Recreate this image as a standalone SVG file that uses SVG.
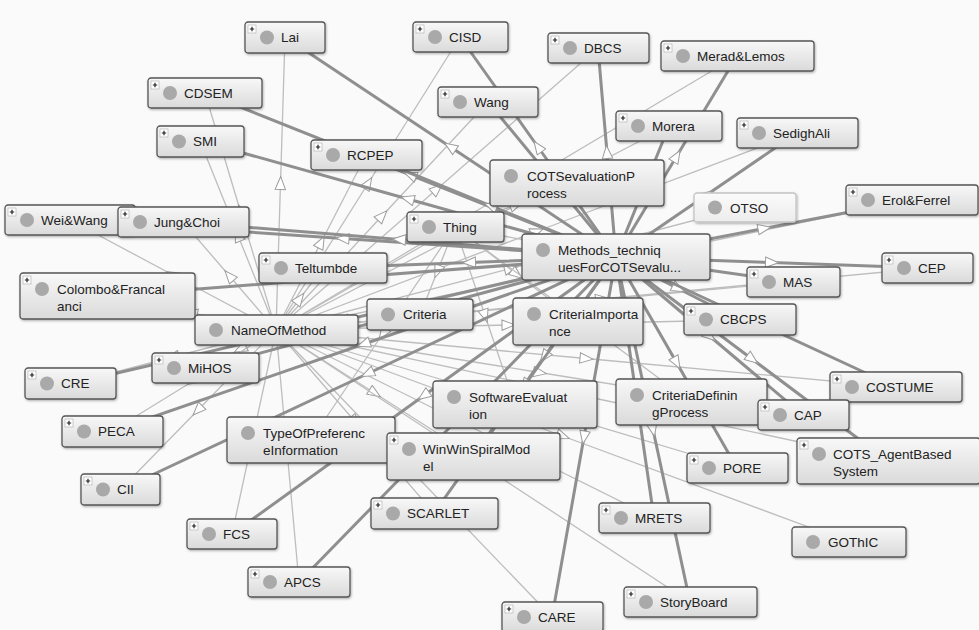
<svg xmlns="http://www.w3.org/2000/svg" xmlns:xlink="http://www.w3.org/1999/xlink" width="979" height="630" viewBox="0 0 979 630">
<style>
.box{fill:url(#gr);stroke:#565656;stroke-width:1.3;filter:url(#sh)}
.faded .box{stroke:#c4c4c4;fill:url(#grf)}
.dot{fill:#a9a9a9}
text{font-family:"Liberation Sans",Arial,sans-serif;font-size:13.5px;fill:#222}
.thin path{fill:none;stroke:#bdbdbd;stroke-width:1.3}
.thick path{fill:none;stroke:#8f8f8f;stroke-width:3}
</style>
<defs>
<linearGradient id="gr" x1="0" y1="0" x2="0" y2="1"><stop offset="0" stop-color="#f8f8f8"/><stop offset="1" stop-color="#dadada"/></linearGradient>
<linearGradient id="grf" x1="0" y1="0" x2="0" y2="1"><stop offset="0" stop-color="#fbfbfb"/><stop offset="1" stop-color="#ececec"/></linearGradient>
<filter id="sh" x="-5%" y="-10%" width="110%" height="130%"><feDropShadow dx="0.8" dy="1.2" stdDeviation="0.8" flood-color="#000" flood-opacity="0.3"/></filter>
<marker id="ah" viewBox="0 0 16 12" markerWidth="16" markerHeight="12" refX="7" refY="6" orient="auto" markerUnits="userSpaceOnUse"><path d="M14,6 L1,0.8 L1,11.2 Z" fill="#fff" stroke="#9c9c9c" stroke-width="1"/></marker>
<g id="plus"><rect x="3" y="3" width="8" height="8" fill="#fff" stroke="#aaa" stroke-width="0.6"/><path d="M4.8,7 H9.2 M7,4.8 V9.2" stroke="#222" stroke-width="1.2"/></g>
</defs>
<rect width="979" height="630" fill="#fafafa"/>
<g id="connectors">
<g class="thin" marker-mid="url(#ah)">
<path d="M276,330 L280.5,183.5 L285,37"/>
<path d="M276,330 L240.5,211.5 L205,93"/>
<path d="M276,330 L238,235.5 L200,141"/>
<path d="M276,330 L368,183.5 L460,37"/>
<path d="M276,330 L382,216 L488,102"/>
<path d="M276,330 L321,242.5 L366,155"/>
<path d="M276,330 L437,189 L598,48"/>
<path d="M276,330 L506.5,193 L737,56"/>
<path d="M276,330 L472.5,228 L669,126"/>
<path d="M276,330 L536.5,231.5 L797,133"/>
<path d="M276,330 L594,265 L912,200"/>
<path d="M276,330 L173,275 L70,220"/>
<path d="M276,330 L229.5,276 L183,222"/>
<path d="M276,330 L299.5,299 L323,268"/>
<path d="M276,330 L191.5,313 L107,296"/>
<path d="M276,330 L601.5,299 L927,268"/>
<path d="M276,330 L534.5,306 L793,282"/>
<path d="M276,330 L508,325 L740,320"/>
<path d="M276,330 L240.5,349 L205,368"/>
<path d="M276,330 L173,357 L70,384"/>
<path d="M276,330 L586,358.5 L896,387"/>
<path d="M276,330 L539.5,372.5 L803,415"/>
<path d="M276,330 L194,380.5 L112,431"/>
<path d="M276,330 L374.5,393 L473,456"/>
<path d="M276,330 L582,395.5 L888,461"/>
<path d="M276,330 L506.5,399 L737,468"/>
<path d="M276,330 L198,410 L120,490"/>
<path d="M276,330 L355,421.5 L434,513"/>
<path d="M276,330 L465,424 L654,518"/>
<path d="M276,330 L254,432 L232,534"/>
<path d="M276,330 L562.5,436 L849,542"/>
<path d="M276,330 L287.5,456 L299,582"/>
<path d="M276,330 L483,466 L690,602"/>
<path d="M276,330 L414,473.5 L552,617"/>
<path d="M276,330 L510.5,268.5 L745,207"/>
<path d="M455,227 L516,205 L577,183"/>
<path d="M455,227 L535.5,242 L616,257"/>
<path d="M455,227 L365.5,278.5 L276,330"/>
<path d="M455,227 L437.5,271 L420,315"/>
<path d="M455,227 L516.5,274 L578,321"/>
<path d="M455,227 L485,315.5 L515,404"/>
<path d="M455,227 L573,314.5 L691,402"/>
<path d="M455,227 L383,333.5 L311,440"/>
</g>
<g class="thick" marker-mid="url(#ah)">
<path d="M616,257 L450.5,147 L285,37"/>
<path d="M616,257 L410.5,175 L205,93"/>
<path d="M616,257 L408,199 L200,141"/>
<path d="M616,257 L538,147 L460,37"/>
<path d="M616,257 L552,179.5 L488,102"/>
<path d="M616,257 L491,206 L366,155"/>
<path d="M616,257 L607,152.5 L598,48"/>
<path d="M616,257 L676.5,156.5 L737,56"/>
<path d="M616,257 L642.5,191.5 L669,126"/>
<path d="M616,257 L706.5,195 L797,133"/>
<path d="M616,257 L764,228.5 L912,200"/>
<path d="M616,257 L343,238.5 L70,220"/>
<path d="M616,257 L399.5,239.5 L183,222"/>
<path d="M616,257 L469.5,262.5 L323,268"/>
<path d="M616,257 L361.5,276.5 L107,296"/>
<path d="M616,257 L771.5,262.5 L927,268"/>
<path d="M616,257 L704.5,269.5 L793,282"/>
<path d="M616,257 L678,288.5 L740,320"/>
<path d="M616,257 L410.5,312.5 L205,368"/>
<path d="M616,257 L343,320.5 L70,384"/>
<path d="M616,257 L756,322 L896,387"/>
<path d="M616,257 L709.5,336 L803,415"/>
<path d="M616,257 L364,344 L112,431"/>
<path d="M616,257 L544.5,356.5 L473,456"/>
<path d="M616,257 L752,359 L888,461"/>
<path d="M616,257 L676.5,362.5 L737,468"/>
<path d="M616,257 L368,373.5 L120,490"/>
<path d="M616,257 L525,385 L434,513"/>
<path d="M616,257 L635,387.5 L654,518"/>
<path d="M616,257 L424,395.5 L232,534"/>
<path d="M616,257 L457.5,419.5 L299,582"/>
<path d="M616,257 L653,429.5 L690,602"/>
<path d="M616,257 L584,437 L552,617"/>
</g>
</g>
<g id="nodes">
<g id="n-lai" transform="translate(245,22)"><rect class="box" width="80" height="31" rx="3"/><use href="#plus"/><circle class="dot" cx="22" cy="15.5" r="7"/><text x="36" y="20">Lai</text></g>
<g id="n-cdsem" transform="translate(148,78)"><rect class="box" width="114" height="30" rx="3"/><use href="#plus"/><circle class="dot" cx="22" cy="15" r="7"/><text x="36" y="20">CDSEM</text></g>
<g id="n-smi" transform="translate(157,126)"><rect class="box" width="87" height="31" rx="3"/><use href="#plus"/><circle class="dot" cx="22" cy="15.5" r="7"/><text x="36" y="20">SMI</text></g>
<g id="n-cisd" transform="translate(413,22)"><rect class="box" width="95" height="30" rx="3"/><use href="#plus"/><circle class="dot" cx="22" cy="15" r="7"/><text x="36" y="20">CISD</text></g>
<g id="n-wang" transform="translate(438,87)"><rect class="box" width="100" height="30" rx="3"/><use href="#plus"/><circle class="dot" cx="22" cy="15" r="7"/><text x="36" y="20">Wang</text></g>
<g id="n-rcpep" transform="translate(311,140)"><rect class="box" width="111" height="30" rx="3"/><use href="#plus"/><circle class="dot" cx="22" cy="15" r="7"/><text x="36" y="20">RCPEP</text></g>
<g id="n-dbcs" transform="translate(548,33)"><rect class="box" width="101" height="30" rx="3"/><use href="#plus"/><circle class="dot" cx="22" cy="15" r="7"/><text x="36" y="20">DBCS</text></g>
<g id="n-merad" transform="translate(661,41)"><rect class="box" width="153" height="30" rx="3"/><use href="#plus"/><circle class="dot" cx="22" cy="15" r="7"/><text x="36" y="20">Merad&amp;Lemos</text></g>
<g id="n-morera" transform="translate(616,111)"><rect class="box" width="106" height="30" rx="3"/><use href="#plus"/><circle class="dot" cx="22" cy="15" r="7"/><text x="36" y="20">Morera</text></g>
<g id="n-sedighali" transform="translate(737,118)"><rect class="box" width="121" height="30" rx="3"/><use href="#plus"/><circle class="dot" cx="22" cy="15" r="7"/><text x="36" y="20">SedighAli</text></g>
<g id="n-cotsevaluationprocess" transform="translate(490,160)"><rect class="box" width="174" height="46" rx="3"/><circle class="dot" cx="21" cy="16" r="7"/><text x="37" y="21">COTSevaluationP</text><text x="37" y="38">rocess</text></g>
<g id="n-otso" class="faded" transform="translate(694,193)"><rect class="box" width="102" height="29" rx="3"/><circle class="dot" cx="21" cy="14.5" r="7"/><text x="36" y="19.5">OTSO</text></g>
<g id="n-erol" transform="translate(846,185)"><rect class="box" width="132" height="30" rx="3"/><use href="#plus"/><circle class="dot" cx="22" cy="15" r="7"/><text x="36" y="20">Erol&amp;Ferrel</text></g>
<g id="n-weiwang" transform="translate(5,205)"><rect class="box" width="130" height="30" rx="3"/><use href="#plus"/><circle class="dot" cx="22" cy="15" r="7"/><text x="36" y="20">Wei&amp;Wang</text></g>
<g id="n-jungchoi" transform="translate(118,207)"><rect class="box" width="131" height="30" rx="3"/><use href="#plus"/><circle class="dot" cx="22" cy="15" r="7"/><text x="36" y="20">Jung&amp;Choi</text></g>
<g id="n-thing" transform="translate(407,212)"><rect class="box" width="97" height="30" rx="3"/><use href="#plus"/><circle class="dot" cx="22" cy="15" r="7"/><text x="36" y="20">Thing</text></g>
<g id="n-methods" transform="translate(522,234)"><rect class="box" width="188" height="46" rx="3"/><circle class="dot" cx="21" cy="16" r="7"/><text x="36" y="21">Methods_techniq</text><text x="36" y="38">uesForCOTSevalu...</text></g>
<g id="n-teltumbde" transform="translate(259,253)"><rect class="box" width="128" height="30" rx="3"/><use href="#plus"/><circle class="dot" cx="22" cy="15" r="7"/><text x="36" y="20">Teltumbde</text></g>
<g id="n-colombo" transform="translate(20,273)"><rect class="box" width="175" height="46" rx="3"/><use href="#plus"/><circle class="dot" cx="22" cy="16" r="7"/><text x="37" y="21">Colombo&amp;Francal</text><text x="37" y="38">anci</text></g>
<g id="n-cep" transform="translate(882,253)"><rect class="box" width="91" height="30" rx="3"/><use href="#plus"/><circle class="dot" cx="22" cy="15" r="7"/><text x="36" y="20">CEP</text></g>
<g id="n-mas" transform="translate(747,267)"><rect class="box" width="93" height="30" rx="3"/><use href="#plus"/><circle class="dot" cx="22" cy="15" r="7"/><text x="36" y="20">MAS</text></g>
<g id="n-nameofmethod" transform="translate(195,315)"><rect class="box" width="163" height="30" rx="3"/><circle class="dot" cx="21" cy="15" r="7"/><text x="36" y="20">NameOfMethod</text></g>
<g id="n-criteria" transform="translate(367,299)"><rect class="box" width="106" height="31" rx="3"/><circle class="dot" cx="21" cy="15.5" r="7"/><text x="36" y="20">Criteria</text></g>
<g id="n-criteriaimportance" transform="translate(513,298)"><rect class="box" width="130" height="47" rx="3"/><circle class="dot" cx="21" cy="16" r="7"/><text x="36" y="21">CriteriaImporta</text><text x="36" y="38">nce</text></g>
<g id="n-cbcps" transform="translate(684,304)"><rect class="box" width="112" height="31" rx="3"/><use href="#plus"/><circle class="dot" cx="22" cy="15.5" r="7"/><text x="36" y="20">CBCPS</text></g>
<g id="n-mihos" transform="translate(152,353)"><rect class="box" width="107" height="30" rx="3"/><use href="#plus"/><circle class="dot" cx="22" cy="15" r="7"/><text x="36" y="20">MiHOS</text></g>
<g id="n-cre" transform="translate(25,368)"><rect class="box" width="91" height="31" rx="3"/><use href="#plus"/><circle class="dot" cx="22" cy="15.5" r="7"/><text x="36" y="20">CRE</text></g>
<g id="n-costume" transform="translate(830,372)"><rect class="box" width="132" height="30" rx="3"/><use href="#plus"/><circle class="dot" cx="22" cy="15" r="7"/><text x="36" y="20">COSTUME</text></g>
<g id="n-softwareevaluation" transform="translate(433,381)"><rect class="box" width="164" height="47" rx="3"/><circle class="dot" cx="21" cy="16" r="7"/><text x="36" y="21">SoftwareEvaluat</text><text x="36" y="38">ion</text></g>
<g id="n-criteriadefiningprocess" transform="translate(616,379)"><rect class="box" width="151" height="46" rx="3"/><circle class="dot" cx="21" cy="16" r="7"/><text x="36" y="21">CriteriaDefinin</text><text x="36" y="38">gProcess</text></g>
<g id="n-cap" transform="translate(758,400)"><rect class="box" width="91" height="30" rx="3"/><use href="#plus"/><circle class="dot" cx="22" cy="15" r="7"/><text x="36" y="20">CAP</text></g>
<g id="n-peca" transform="translate(62,416)"><rect class="box" width="101" height="31" rx="3"/><use href="#plus"/><circle class="dot" cx="22" cy="15.5" r="7"/><text x="36" y="20">PECA</text></g>
<g id="n-typeofpreference" transform="translate(227,417)"><rect class="box" width="168" height="46" rx="3"/><circle class="dot" cx="21" cy="16" r="7"/><text x="36" y="21">TypeOfPreferenc</text><text x="36" y="38">eInformation</text></g>
<g id="n-winwin" transform="translate(387,433)"><rect class="box" width="173" height="47" rx="3"/><use href="#plus"/><circle class="dot" cx="22" cy="16" r="7"/><text x="36" y="21">WinWinSpiralMod</text><text x="36" y="38">el</text></g>
<g id="n-cotsagent" transform="translate(797,438)"><rect class="box" width="183" height="46" rx="3"/><use href="#plus"/><circle class="dot" cx="22" cy="16" r="7"/><text x="36" y="21">COTS_AgentBased</text><text x="36" y="38">System</text></g>
<g id="n-pore" transform="translate(687,453)"><rect class="box" width="101" height="30" rx="3"/><use href="#plus"/><circle class="dot" cx="22" cy="15" r="7"/><text x="36" y="20">PORE</text></g>
<g id="n-cil" transform="translate(81,474)"><rect class="box" width="79" height="31" rx="3"/><use href="#plus"/><circle class="dot" cx="22" cy="15.5" r="7"/><text x="36" y="20">CIl</text></g>
<g id="n-scarlet" transform="translate(371,498)"><rect class="box" width="127" height="31" rx="3"/><use href="#plus"/><circle class="dot" cx="22" cy="15.5" r="7"/><text x="36" y="20">SCARLET</text></g>
<g id="n-mrets" transform="translate(599,503)"><rect class="box" width="111" height="30" rx="3"/><use href="#plus"/><circle class="dot" cx="22" cy="15" r="7"/><text x="36" y="20">MRETS</text></g>
<g id="n-fcs" transform="translate(187,519)"><rect class="box" width="90" height="30" rx="3"/><use href="#plus"/><circle class="dot" cx="22" cy="15" r="7"/><text x="36" y="20">FCS</text></g>
<g id="n-gothic" transform="translate(792,527)"><rect class="box" width="114" height="30" rx="3"/><circle class="dot" cx="21" cy="15" r="7"/><text x="36" y="20">GOThIC</text></g>
<g id="n-apcs" transform="translate(248,567)"><rect class="box" width="102" height="30" rx="3"/><use href="#plus"/><circle class="dot" cx="22" cy="15" r="7"/><text x="36" y="20">APCS</text></g>
<g id="n-storyboard" transform="translate(624,587)"><rect class="box" width="133" height="30" rx="3"/><use href="#plus"/><circle class="dot" cx="22" cy="15" r="7"/><text x="36" y="20">StoryBoard</text></g>
<g id="n-care" transform="translate(502,602)"><rect class="box" width="101" height="30" rx="3"/><use href="#plus"/><circle class="dot" cx="22" cy="15" r="7"/><text x="36" y="20">CARE</text></g>
</g>
</svg>
